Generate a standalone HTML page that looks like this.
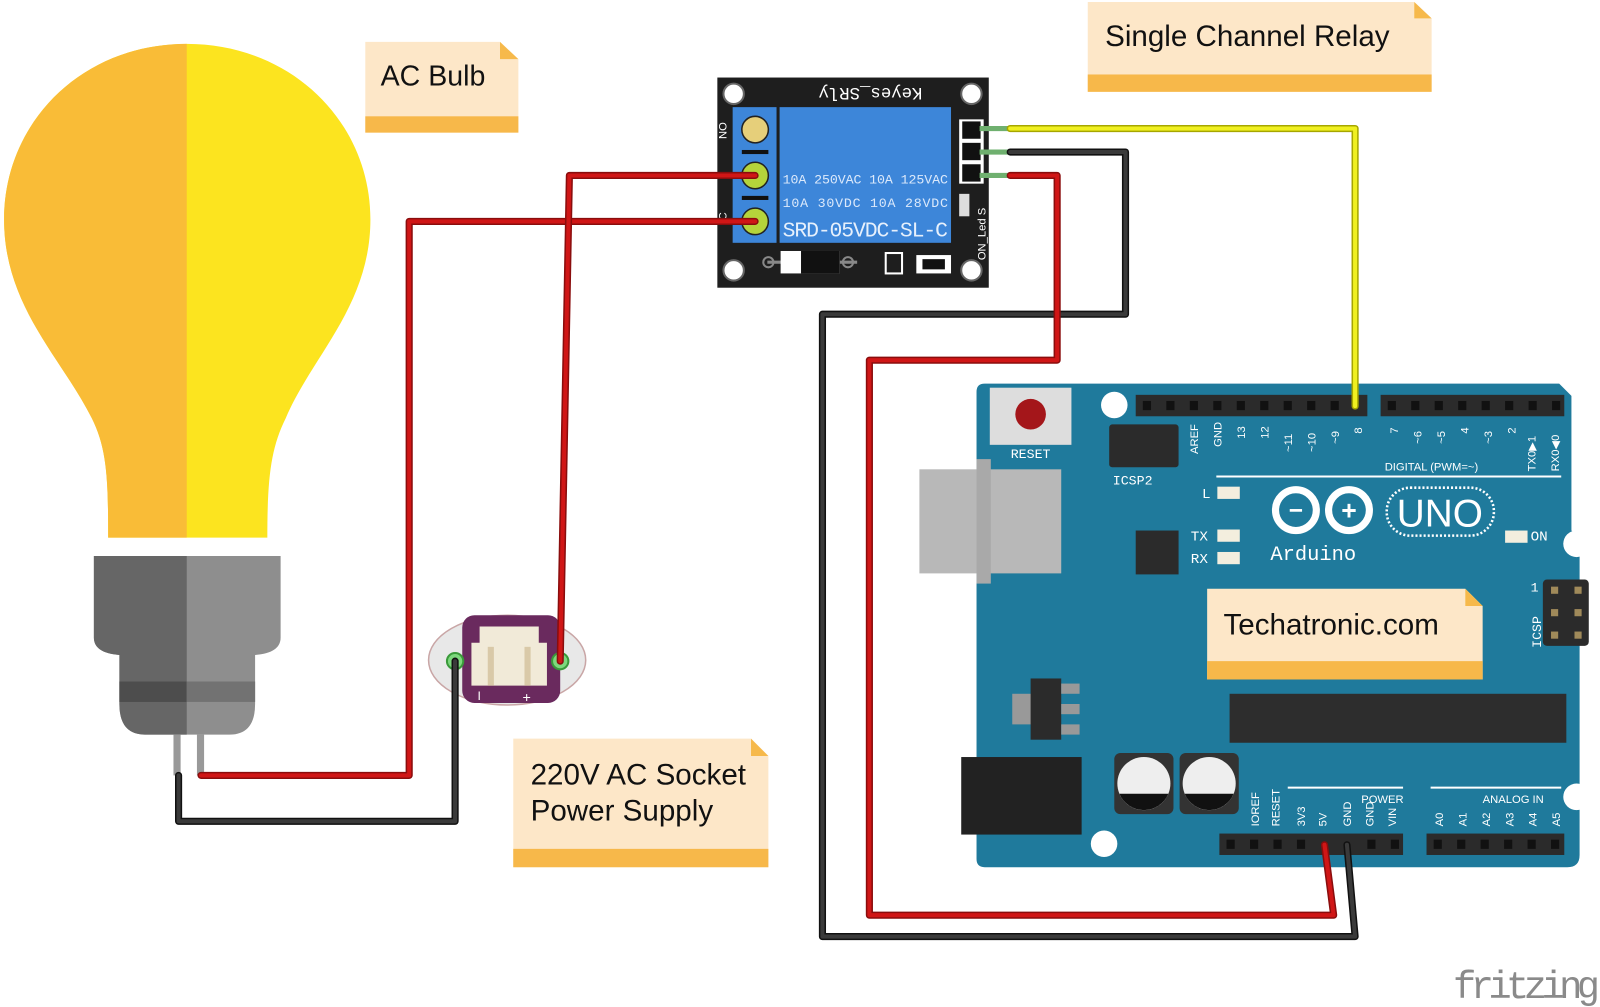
<!DOCTYPE html>
<html><head><meta charset="utf-8"><style>
html,body{margin:0;padding:0;background:#fff;}
svg{display:block;}
text{font-family:"Liberation Sans",sans-serif;}
.m{font-family:"Liberation Mono",monospace;}
</style></head><body>
<svg width="1600" height="1007" viewBox="0 0 1568 987" preserveAspectRatio="none" xmlns="http://www.w3.org/2000/svg">
<defs>
<clipPath id="lh"><rect x="0" y="0" width="183" height="987"/></clipPath>
<clipPath id="lb"><rect x="0" y="0" width="183" height="987"/></clipPath>
</defs>
<rect width="1568" height="987" fill="#fff"/>

<!-- Bulb -->
<path id="bulb" d="M183,43 C80,43 4,120 4,215 C4,300 60,350 90,410 C105,440 106,470 106,527 L262,527 C262,470 265,440 280,410 C305,350 363,300 363,215 C363,120 286,43 183,43 Z" fill="#FCE41F"/>
<path d="M183,43 C80,43 4,120 4,215 C4,300 60,350 90,410 C105,440 106,470 106,527 L183,527 Z" fill="#F9BC37"/>
<!-- base -->
<path d="M92,545 L275,545 L275,625 Q275,640 250,642 L250,690 Q250,720 225,720 L142,720 Q117,720 117,690 L117,642 Q92,640 92,625 Z" fill="#8e8e8e"/>
<path d="M92,545 L183,545 L183,720 L142,720 Q117,720 117,690 L117,642 Q92,640 92,625 Z" fill="#666"/>
<rect x="117" y="668" width="66" height="20" fill="#4d4d4d"/>
<rect x="183" y="668" width="67" height="20" fill="#727272"/>
<rect x="170" y="720" width="7" height="40" fill="#999"/>
<rect x="193" y="720" width="7" height="40" fill="#999"/>

<!-- Socket -->
<ellipse cx="497" cy="647" rx="77" ry="44" fill="#e8e8e8" stroke="#c9a6a6" stroke-width="1.5"/>
<rect x="453" y="603" width="96" height="86" rx="12" fill="#6a2a5e"/>
<path d="M470,614 L528,614 L528,630 L536,630 L536,672 L462,672 L462,630 L470,630 Z" fill="#f1ead8"/>
<rect x="478" y="634" width="6" height="38" fill="#d9c9a8"/>
<rect x="514" y="634" width="6" height="38" fill="#d9c9a8"/>
<text x="468" y="686" fill="#fff" font-size="12">I</text>
<text x="512" y="688" fill="#fff" font-size="14">+</text>
<circle cx="446" cy="648" r="8" fill="#7dd87d" stroke="#3a9a3a" stroke-width="2"/>
<circle cx="549" cy="648" r="8" fill="#7dd87d" stroke="#3a9a3a" stroke-width="2"/>

<!-- Relay -->
<rect x="703" y="76" width="266" height="206" fill="#1e1e1e"/>
<circle cx="719" cy="92" r="10" fill="#fff" stroke="#666" stroke-width="2"/>
<circle cx="952" cy="92" r="10" fill="#fff" stroke="#666" stroke-width="2"/>
<circle cx="719" cy="265" r="10" fill="#fff" stroke="#666" stroke-width="2"/>
<circle cx="952" cy="265" r="10" fill="#fff" stroke="#666" stroke-width="2"/>
<text x="853" y="98" fill="#fff" font-size="17" text-anchor="middle" transform="rotate(180 853 92)" class="m">Keyes_SRly</text>
<rect x="718" y="105" width="43" height="133" fill="#3d86d9"/>
<rect x="764" y="105" width="168" height="133" fill="#3d86d9"/>
<circle cx="740" cy="127" r="13" fill="#e6cf7a" stroke="#222" stroke-width="1.5"/>
<rect x="727" y="147" width="26" height="4" fill="#111"/>
<circle cx="740" cy="172" r="13" fill="#b5d43b" stroke="#222" stroke-width="1.5"/>
<rect x="727" y="192" width="26" height="4" fill="#111"/>
<circle cx="740" cy="217" r="13" fill="#b5d43b" stroke="#222" stroke-width="1.5"/>
<text x="712" y="128" fill="#fff" font-size="11" transform="rotate(-90 712 128)" text-anchor="middle">NO</text>
<text x="712" y="212" fill="#fff" font-size="11" transform="rotate(-90 712 212)" text-anchor="middle">C</text>
<text x="767" y="180" fill="#dbe9fb" font-size="13" class="m" textLength="162">10A 250VAC  10A 125VAC</text>
<text x="767" y="203" fill="#dbe9fb" font-size="13" class="m" textLength="162">10A  30VDC  10A  28VDC</text>
<text x="767" y="232" fill="#e6f0fc" font-size="21" class="m" textLength="162">SRD-05VDC-SL-C</text>
<rect x="940" y="117" width="24" height="63" fill="#fff"/>
<rect x="943" y="119" width="18" height="17" fill="#111"/>
<rect x="943" y="140" width="18" height="17" fill="#111"/>
<rect x="943" y="161" width="18" height="17" fill="#111"/>
<rect x="940" y="190" width="10" height="22" fill="#ddd"/>
<text x="966" y="255" fill="#fff" font-size="11" transform="rotate(-90 966 255)">ON_Led  S</text>
<line x1="752" y1="257" x2="840" y2="257" stroke="#888" stroke-width="3"/>
<rect x="765" y="246" width="58" height="22" fill="#fff"/>
<rect x="785" y="246" width="38" height="22" fill="#111"/>
<circle cx="753" cy="257" r="5" fill="none" stroke="#888" stroke-width="2"/>
<circle cx="831" cy="257" r="5" fill="none" stroke="#888" stroke-width="2"/>
<rect x="868" y="248" width="16" height="20" fill="none" stroke="#fff" stroke-width="2"/>
<rect x="898" y="250" width="34" height="18" fill="#fff"/>
<rect x="904" y="254" width="22" height="10" fill="#111"/>
<line x1="960" y1="126" x2="990" y2="126" stroke="#6fb06f" stroke-width="5"/>
<line x1="960" y1="149" x2="990" y2="149" stroke="#6fb06f" stroke-width="5"/>
<line x1="960" y1="172" x2="990" y2="172" stroke="#6fb06f" stroke-width="5"/>

<!-- Arduino -->
<path d="M965,376 L1528,376 L1540,388 L1540,520 L1548,528 L1548,838 Q1548,850 1536,850 L965,850 Q957,850 957,842 L957,384 Q957,376 965,376 Z" fill="#1f7a9c"/>
<rect x="970" y="380" width="80" height="56" fill="#ddd"/>
<circle cx="1010" cy="406" r="15" fill="#a4161a"/>
<text x="1010" y="449" fill="#fff" font-size="13" text-anchor="middle" class="m">RESET</text>
<circle cx="1092" cy="397" r="13" fill="#fff"/>
<circle cx="1082" cy="827" r="13" fill="#fff"/>
<circle cx="1545" cy="533" r="13" fill="#fff"/>
<circle cx="1545" cy="781" r="13" fill="#fff"/>
<rect x="901" y="460" width="139" height="102" fill="#b8b8b8"/>
<rect x="957" y="450" width="14" height="122" fill="#a9a9a9"/>
<rect x="1087" y="416" width="68" height="42" fill="#2b2b2b" rx="3"/>
<text x="1110" y="475" fill="#fff" font-size="13" text-anchor="middle" class="m">ICSP2</text>
<rect x="1113" y="387" width="227" height="21" fill="#2b2b2b"/>
<rect x="1353" y="387" width="180" height="21" fill="#2b2b2b"/>
<rect x="1195" y="817" width="180" height="21" fill="#2b2b2b"/>
<rect x="1398" y="817" width="135" height="21" fill="#2b2b2b"/>
<g fill="#111">
<rect x="1120" y="393" width="8" height="9"/><rect x="1143" y="393" width="8" height="9"/><rect x="1166" y="393" width="8" height="9"/><rect x="1189" y="393" width="8" height="9"/><rect x="1212" y="393" width="8" height="9"/><rect x="1235" y="393" width="8" height="9"/><rect x="1258" y="393" width="8" height="9"/><rect x="1281" y="393" width="8" height="9"/><rect x="1304" y="393" width="8" height="9"/>
<rect x="1360" y="393" width="8" height="9"/><rect x="1383" y="393" width="8" height="9"/><rect x="1406" y="393" width="8" height="9"/><rect x="1429" y="393" width="8" height="9"/><rect x="1452" y="393" width="8" height="9"/><rect x="1475" y="393" width="8" height="9"/><rect x="1498" y="393" width="8" height="9"/><rect x="1521" y="393" width="8" height="9"/>
<rect x="1202" y="823" width="8" height="9"/><rect x="1225" y="823" width="8" height="9"/><rect x="1248" y="823" width="8" height="9"/><rect x="1271" y="823" width="8" height="9"/><rect x="1340" y="823" width="8" height="9"/><rect x="1363" y="823" width="8" height="9"/>
<rect x="1405" y="823" width="8" height="9"/><rect x="1428" y="823" width="8" height="9"/><rect x="1451" y="823" width="8" height="9"/><rect x="1474" y="823" width="8" height="9"/><rect x="1497" y="823" width="8" height="9"/><rect x="1520" y="823" width="8" height="9"/>
</g>
<g fill="#fff" font-size="11" class="m">
<text transform="translate(1174,445) rotate(-90)">AREF</text>
<text transform="translate(1197,438) rotate(-90)">GND</text>
<text transform="translate(1220,430) rotate(-90)">13</text>
<text transform="translate(1243,430) rotate(-90)">12</text>
<text transform="translate(1266,443) rotate(-90)">~11</text>
<text transform="translate(1289,443) rotate(-90)">~10</text>
<text transform="translate(1312,435) rotate(-90)">~9</text>
<text transform="translate(1335,425) rotate(-90)">8</text>
<text transform="translate(1370,425) rotate(-90)">7</text>
<text transform="translate(1393,435) rotate(-90)">~6</text>
<text transform="translate(1416,435) rotate(-90)">~5</text>
<text transform="translate(1439,425) rotate(-90)">4</text>
<text transform="translate(1462,435) rotate(-90)">~3</text>
<text transform="translate(1485,425) rotate(-90)">2</text>
<text transform="translate(1505,462) rotate(-90)">TX0▶1</text>
<text transform="translate(1528,462) rotate(-90)">RX0◀0</text>
<text x="1357" y="461">DIGITAL (PWM=~)</text>
<text transform="translate(1234,810) rotate(-90)">IOREF</text>
<text transform="translate(1254,810) rotate(-90)">RESET</text>
<text transform="translate(1279,810) rotate(-90)">3V3</text>
<text transform="translate(1300,810) rotate(-90)">5V</text>
<text transform="translate(1324,810) rotate(-90)">GND</text>
<text transform="translate(1346,810) rotate(-90)">GND</text>
<text transform="translate(1368,810) rotate(-90)">VIN</text>
<text transform="translate(1414,810) rotate(-90)">A0</text>
<text transform="translate(1437,810) rotate(-90)">A1</text>
<text transform="translate(1460,810) rotate(-90)">A2</text>
<text transform="translate(1483,810) rotate(-90)">A3</text>
<text transform="translate(1506,810) rotate(-90)">A4</text>
<text transform="translate(1529,810) rotate(-90)">A5</text>
<text x="1334" y="787">POWER</text>
<text x="1453" y="787">ANALOG IN</text>
</g>
<line x1="1192" y1="467" x2="1530" y2="467" stroke="#fff" stroke-width="2"/>
<line x1="1262" y1="772" x2="1375" y2="772" stroke="#fff" stroke-width="2"/>
<line x1="1402" y1="772" x2="1530" y2="772" stroke="#fff" stroke-width="2"/>
<text x="1178" y="488" fill="#fff" font-size="14" class="m">L</text>
<rect x="1193" y="477" width="22" height="12" fill="#f3eede"/>
<text x="1167" y="530" fill="#fff" font-size="14" class="m">TX</text>
<rect x="1193" y="519" width="22" height="12" fill="#f3eede"/>
<text x="1167" y="552" fill="#fff" font-size="14" class="m">RX</text>
<rect x="1193" y="541" width="22" height="12" fill="#f3eede"/>
<rect x="1475" y="520" width="22" height="12" fill="#f3eede"/>
<text x="1500" y="530" fill="#fff" font-size="14" class="m">ON</text>
<rect x="1113" y="520" width="42" height="43" fill="#2b2b2b"/>
<!-- logo -->
<g fill="none" stroke="#fff" stroke-width="7">
<circle cx="1270" cy="500" r="20"/><circle cx="1322" cy="500" r="20"/>
</g>
<text x="1270" y="508" fill="#fff" font-size="24" font-weight="bold" text-anchor="middle">−</text>
<text x="1322" y="509" fill="#fff" font-size="26" font-weight="bold" text-anchor="middle">+</text>
<rect x="1359" y="478" width="105" height="47" rx="23" fill="none" stroke="#fff" stroke-width="2.5" stroke-dasharray="2 2"/>
<text x="1411" y="516" fill="#fff" font-size="38" text-anchor="middle">UNO</text>
<text x="1245" y="549" fill="#fff" font-size="20" class="m">Arduino</text>
<!-- ICSP right -->
<rect x="1512" y="568" width="45" height="65" rx="4" fill="#2b2b2b"/>
<g fill="#a08a5a"><rect x="1520" y="575" width="7" height="7"/><rect x="1543" y="575" width="7" height="7"/><rect x="1520" y="597" width="7" height="7"/><rect x="1543" y="597" width="7" height="7"/><rect x="1520" y="619" width="7" height="7"/><rect x="1543" y="619" width="7" height="7"/></g>
<text transform="translate(1510,635) rotate(-90)" fill="#fff" font-size="13" class="m">ICSP</text>
<text x="1500" y="580" fill="#fff" font-size="13" class="m">1</text>
<rect x="1205" y="680" width="330" height="48" fill="#2d2d2d"/>
<rect x="992" y="680" width="20" height="30" fill="#999"/>
<rect x="1010" y="665" width="30" height="60" fill="#2b2b2b"/>
<rect x="1040" y="670" width="18" height="10" fill="#999"/><rect x="1040" y="690" width="18" height="10" fill="#999"/><rect x="1040" y="710" width="18" height="10" fill="#999"/>
<rect x="942" y="742" width="118" height="76" fill="#222"/>
<rect x="1092" y="738" width="58" height="60" rx="6" fill="#333"/>
<rect x="1156" y="738" width="58" height="60" rx="6" fill="#333"/>
<circle cx="1121" cy="768" r="26" fill="#eee"/><path d="M1097,778 A26,26 0 0 0 1145,778 Z" fill="#111"/>
<circle cx="1185" cy="768" r="26" fill="#eee"/><path d="M1161,778 A26,26 0 0 0 1209,778 Z" fill="#111"/>

<!-- Wires -->
<g fill="none" stroke-linejoin="round" stroke-linecap="round">
<polyline points="197,760 401,760 401,217 740,217" stroke="#8a0d0d" stroke-width="7"/>
<polyline points="197,760 401,760 401,217 740,217" stroke="#d01616" stroke-width="4"/>
<polyline points="549,648 558,172 740,172" stroke="#8a0d0d" stroke-width="7"/>
<polyline points="549,648 558,172 740,172" stroke="#d01616" stroke-width="4"/>
<polyline points="175,760 175,805 446,805 446,648" stroke="#111" stroke-width="7"/>
<polyline points="175,760 175,805 446,805 446,648" stroke="#3a3a3a" stroke-width="4"/>
<polyline points="990,126 1328,126 1328,398" stroke="#a6a600" stroke-width="7"/>
<polyline points="990,126 1328,126 1328,398" stroke="#f0f020" stroke-width="4"/>
<polyline points="990,149 1103,149 1103,308 806,308 806,918 1328,918 1320,828" stroke="#111" stroke-width="7"/>
<polyline points="990,149 1103,149 1103,308 806,308 806,918 1328,918 1320,828" stroke="#3a3a3a" stroke-width="4"/>
<polyline points="990,172 1036,172 1036,353 852,353 852,897 1307,897 1298,828" stroke="#8a0d0d" stroke-width="7"/>
<polyline points="990,172 1036,172 1036,353 852,353 852,897 1307,897 1298,828" stroke="#d01616" stroke-width="4"/>
</g>

<!-- Notes -->
<g>
<path d="M358,41 L490,41 L508,58 L508,130 L358,130 Z" fill="#fde7c8"/>
<path d="M490,41 L508,58 L490,58 Z" fill="#f6b94b"/>
<rect x="358" y="114" width="150" height="16" fill="#f7b84a"/>
<text x="373" y="84" font-size="28" fill="#111">AC Bulb</text>

<path d="M1066,2 L1386,2 L1403,18 L1403,90 L1066,90 Z" fill="#fde7c8"/>
<path d="M1386,2 L1403,18 L1386,18 Z" fill="#f6b94b"/>
<rect x="1066" y="73" width="337" height="17" fill="#f7b84a"/>
<text x="1083" y="45" font-size="29" fill="#111">Single Channel Relay</text>

<path d="M503,724 L736,724 L753,741 L753,850 L503,850 Z" fill="#fde7c8"/>
<path d="M736,724 L753,741 L736,741 Z" fill="#f6b94b"/>
<rect x="503" y="832" width="250" height="18" fill="#f7b84a"/>
<text x="520" y="769" font-size="29" fill="#111">220V AC Socket</text>
<text x="520" y="804" font-size="29" fill="#111">Power Supply</text>

<path d="M1183,577 L1436,577 L1453,594 L1453,666 L1183,666 Z" fill="#fde7c8"/>
<path d="M1436,577 L1453,594 L1436,594 Z" fill="#f6b94b"/>
<rect x="1183" y="648" width="270" height="18" fill="#f7b84a"/>
<text x="1199" y="622" font-size="29" fill="#111">Techatronic.com</text>
</g>

<text x="1424" y="978" font-size="38" fill="#8a8a8a" class="m" textLength="144">fritzing</text>
</svg>
</body></html>
